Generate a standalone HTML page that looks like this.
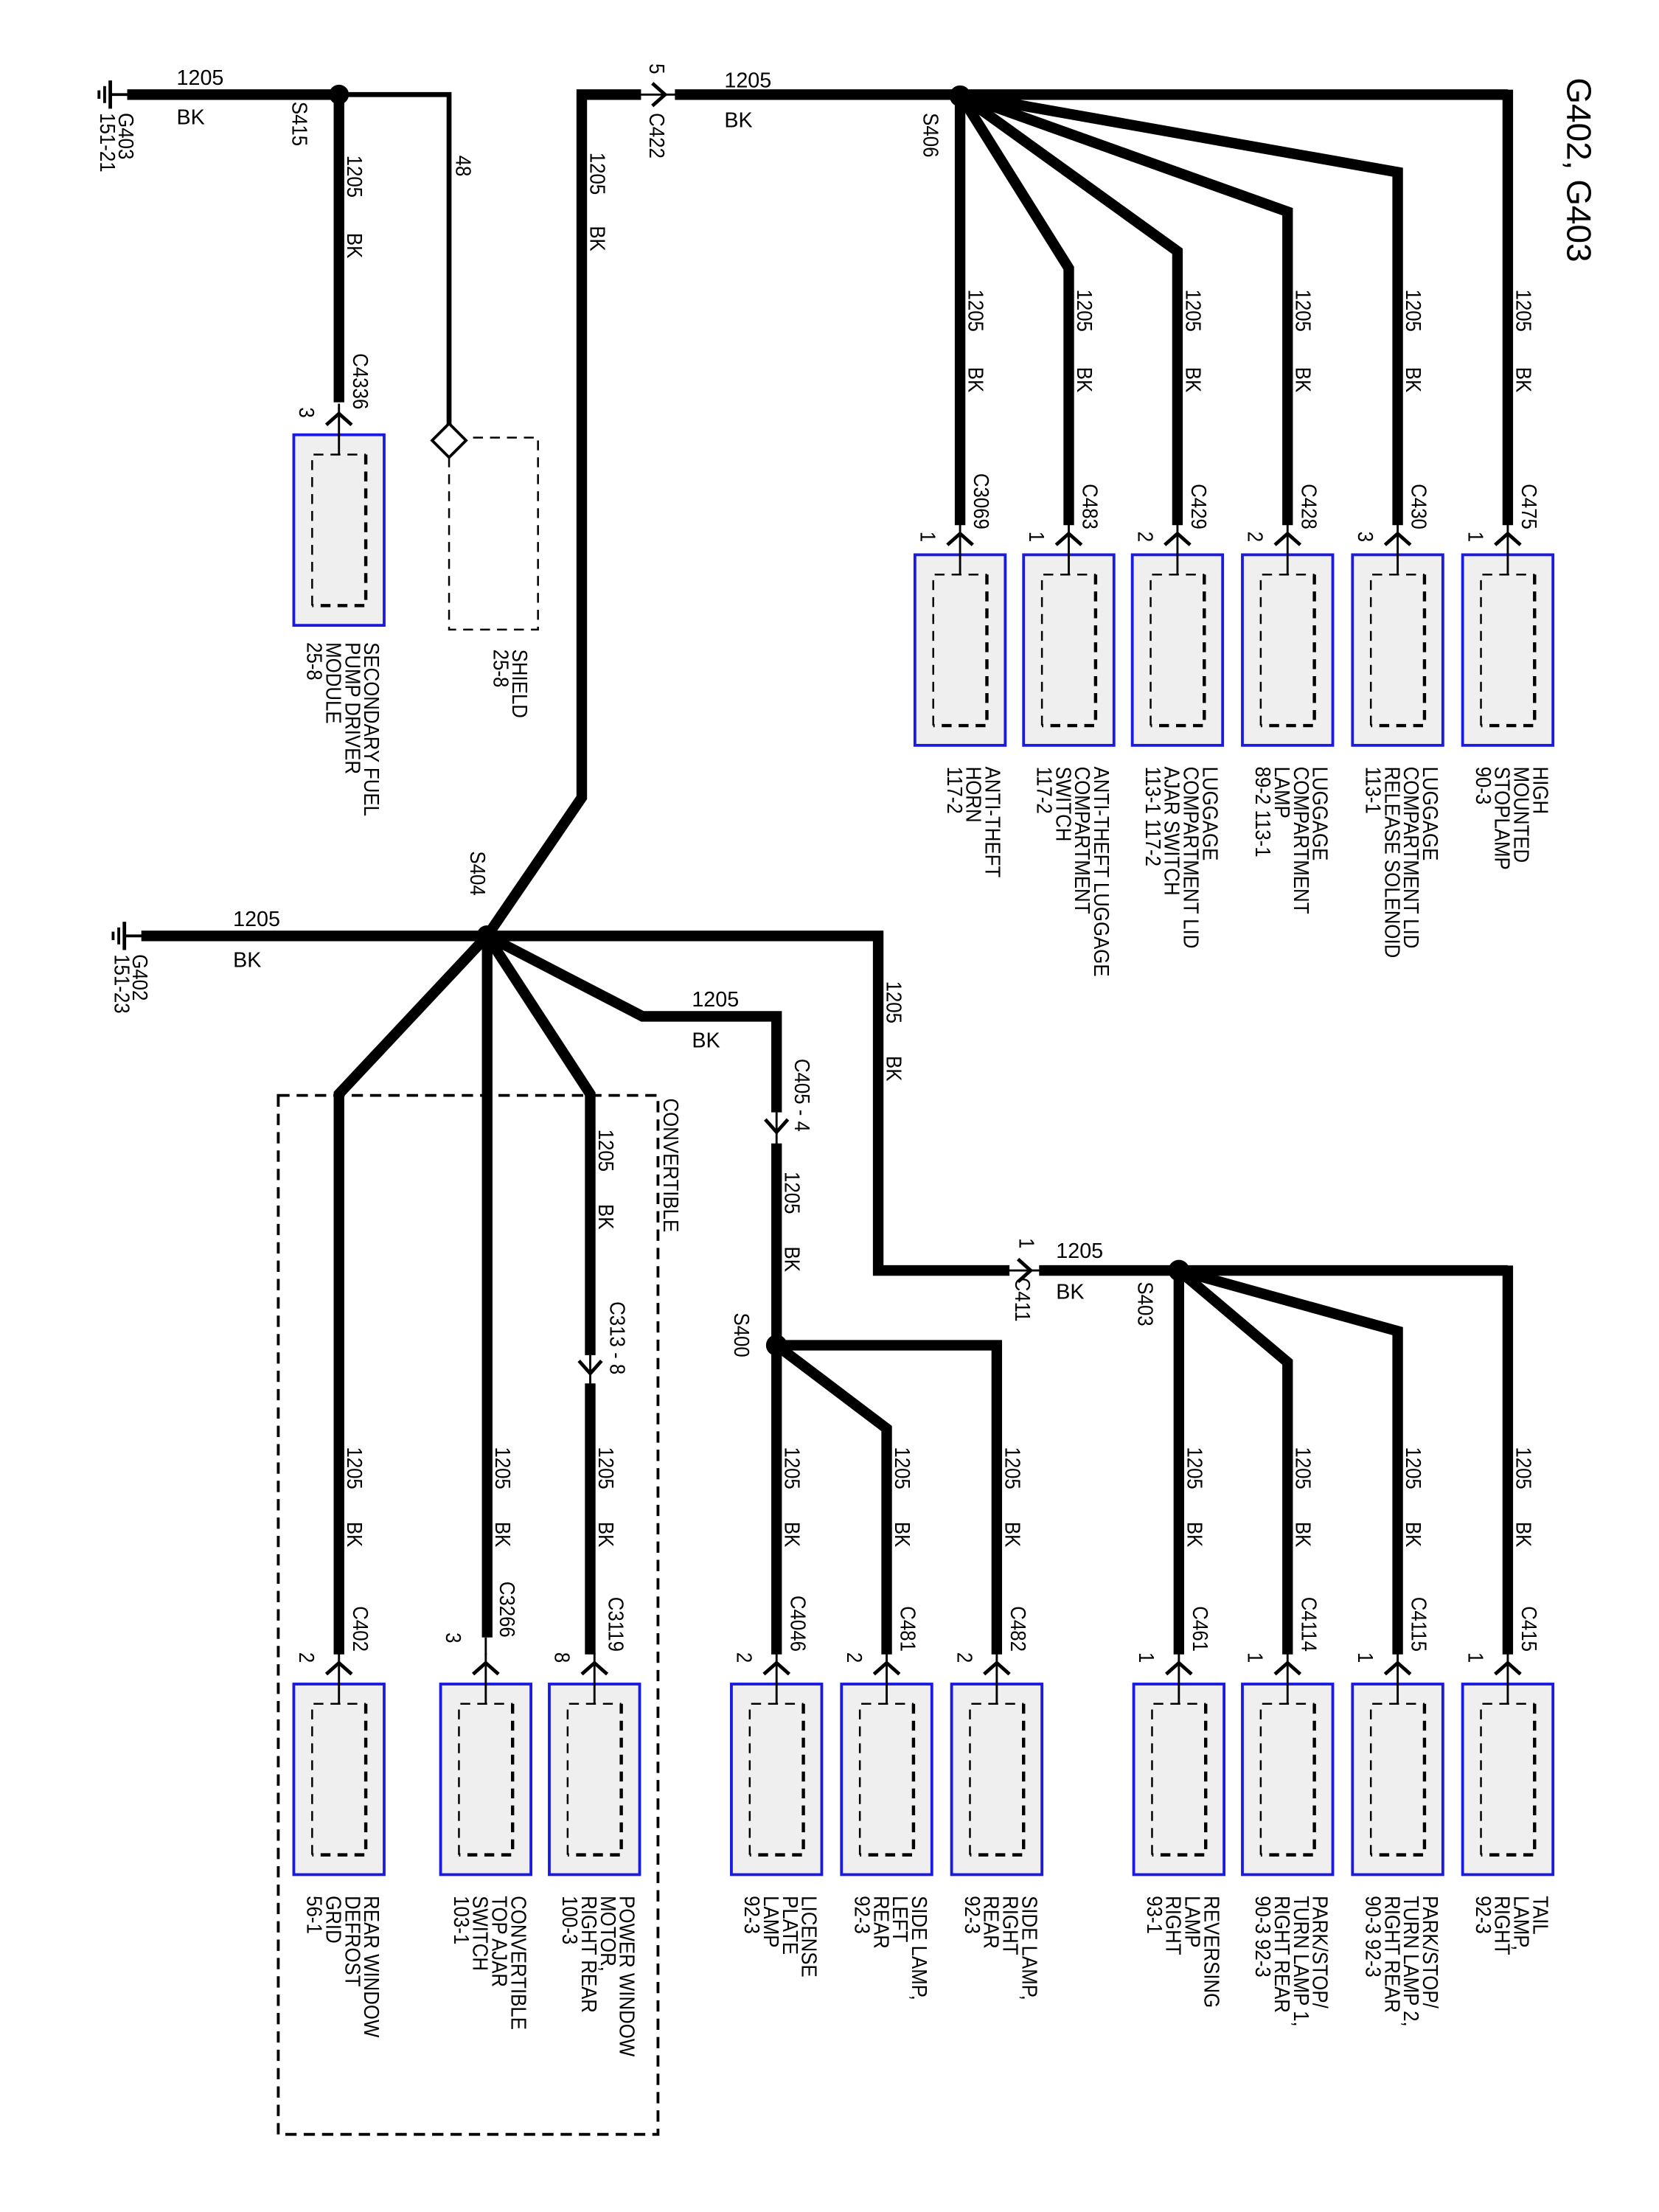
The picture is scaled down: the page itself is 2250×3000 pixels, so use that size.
<!DOCTYPE html>
<html><head><meta charset="utf-8"><style>
html,body{margin:0;padding:0;background:#fff}
svg{display:block}
text{font-family:"Liberation Sans",Arial,sans-serif;font-size:15px;fill:#000}
.pre{white-space:pre}
</style></head><body>
<svg width="2250" height="3000" viewBox="0 0 1175 1567" xmlns="http://www.w3.org/2000/svg">
<defs>
<g id="box">
<rect x="-32" y="0" width="64" height="135" fill="#efefef" stroke="#1a1ae0" stroke-width="2"/>
<path d="M-19 121 V14 H19" fill="none" stroke="#000" stroke-width="1.3" stroke-dasharray="7 5"/>
<path d="M19 14 V121 H-19" fill="none" stroke="#000" stroke-width="2.3" stroke-dasharray="7 5"/>
<line x1="0" y1="-22" x2="0" y2="14" stroke="#000" stroke-width="1.5"/>
<path d="M-9 -7 L0 -15 L9 -7" fill="none" stroke="#000" stroke-width="2.5"/>
</g>
</defs>
<g fill="none" stroke="#000" stroke-width="7.5" stroke-linejoin="miter">
<line x1="90" y1="67" x2="240" y2="67"/>
<line x1="240" y1="67" x2="240" y2="285"/>
<polyline points="345,663 412,565 412,67 454,67"/>
<line x1="478" y1="67" x2="1068" y2="67"/>
<line x1="680" y1="67" x2="680" y2="372"/>
<polyline points="680,67 757,190 757,372"/>
<polyline points="680,67 834,178 834,372"/>
<polyline points="680,67 912,150 912,372"/>
<polyline points="680,67 990,122 990,372"/>
<line x1="1068" y1="63.5" x2="1068" y2="372"/>
<line x1="100" y1="663" x2="345" y2="663"/>
<polyline points="345,663 622,663 622,900 715,900"/>
<line x1="736" y1="900" x2="1068" y2="900"/>
<polyline points="345,663 455,720 550,720 550,788"/>
<line x1="550" y1="810" x2="550" y2="1172"/>
<polyline points="345,663 418,775 418,960"/>
<line x1="418" y1="980" x2="418" y2="1172"/>
<line x1="345" y1="663" x2="345" y2="1160"/>
<polyline points="345,663 240,775 240,1172"/>
<polyline points="550,953 628,1012 628,1172"/>
<polyline points="550,953 706,953 706,1172"/>
<line x1="835" y1="900" x2="835" y2="1172"/>
<polyline points="835,900 912,965 912,1172"/>
<polyline points="835,900 990,943 990,1172"/>
<line x1="1068" y1="896.5" x2="1068" y2="1172"/>
</g>
<polyline points="246,67 318,67 318,306" fill="none" stroke="#000" stroke-width="3.5"/>
<g stroke="#000" fill="none">
<line x1="78" y1="67" x2="92" y2="67" stroke-width="2"/>
<line x1="78" y1="57" x2="78" y2="77" stroke-width="2.5"/>
<line x1="74" y1="61" x2="74" y2="73" stroke-width="2"/>
<line x1="70" y1="64" x2="70" y2="70" stroke-width="2"/>
<line x1="88" y1="663" x2="102" y2="663" stroke-width="2"/>
<line x1="88" y1="653" x2="88" y2="673" stroke-width="2.5"/>
<line x1="84" y1="657" x2="84" y2="669" stroke-width="2"/>
<line x1="80" y1="660" x2="80" y2="666" stroke-width="2"/>
</g>
<g fill="#000">
<circle cx="240" cy="67" r="7"/>
<circle cx="680" cy="68" r="7.5"/>
<circle cx="345" cy="663" r="7.5"/>
<circle cx="550" cy="953" r="7.5"/>
<circle cx="835" cy="900" r="7.5"/>
</g>
<g fill="none" stroke="#000" stroke-width="2.5">
<line x1="454" y1="67" x2="480" y2="67" stroke-width="1.5"/>
<path d="M462 59 L471 67 L462 75"/>
<line x1="715" y1="900" x2="738" y2="900" stroke-width="1.5"/>
<path d="M721 892 L730 900 L721 908"/>
<line x1="550" y1="788" x2="550" y2="812" stroke-width="1.5"/>
<path d="M542 793 L550 802 L558 793"/>
<line x1="418" y1="960" x2="418" y2="982" stroke-width="1.5"/>
<path d="M410 964 L418 973 L426 964"/>
</g>
<path d="M318 300 L330 312 L318 324 L306 312 Z" fill="#fff" stroke="#000" stroke-width="2"/>
<path d="M318 324 V446 H381 V310 H330" fill="none" stroke="#000" stroke-width="1.3" stroke-dasharray="7 5"/>
<rect x="197" y="776" width="269" height="736" fill="none" stroke="#000" stroke-width="2" stroke-dasharray="8 5"/>
<use href="#box" x="240" y="308"/>
<use href="#box" x="680" y="393"/><use href="#box" x="757" y="393"/><use href="#box" x="834" y="393"/>
<use href="#box" x="912" y="393"/><use href="#box" x="990" y="393"/><use href="#box" x="1068" y="393"/>
<use href="#box" x="240" y="1193"/><use href="#box" x="344" y="1193"/><use href="#box" x="421" y="1193"/>
<use href="#box" x="550" y="1193"/><use href="#box" x="628" y="1193"/><use href="#box" x="706" y="1193"/>
<use href="#box" x="835" y="1193"/><use href="#box" x="912" y="1193"/><use href="#box" x="990" y="1193"/><use href="#box" x="1068" y="1193"/>
<line x1="344" y1="1160" x2="344" y2="1172" stroke="#000" stroke-width="1.5"/>

<text x="125" y="60">1205</text><text x="125" y="88">BK</text>
<text x="513" y="62">1205</text><text x="513" y="90">BK</text>
<text x="165" y="656">1205</text><text x="165" y="685">BK</text>
<text x="490" y="713">1205</text><text x="490" y="742">BK</text>
<text x="748" y="891">1205</text><text x="748" y="920">BK</text>

<g>
<text transform="translate(1110,55) rotate(90)" style="font-size:24px">G402, G403</text>
<text transform="translate(84,80) rotate(90) scale(.9,1)">G403<tspan x="0" dy="13">151-21</tspan></text>
<text transform="translate(94,676) rotate(90) scale(.9,1)">G402<tspan x="0" dy="13">151-23</tspan></text>
<text transform="translate(207,72) rotate(90) scale(.9,1)">S415</text>
<text transform="translate(246,110) rotate(90) scale(.9,1)">1205</text>
<text transform="translate(246,165) rotate(90) scale(.9,1)">BK</text>
<text transform="translate(250,290) rotate(90) scale(.9,1)" text-anchor="end">C4336</text>
<text transform="translate(212,296) rotate(90) scale(.9,1)" text-anchor="end">3</text>
<text transform="translate(323,110) rotate(90) scale(.9,1)">48</text>
<text transform="translate(418,108) rotate(90) scale(.9,1)">1205</text>
<text transform="translate(418,160) rotate(90) scale(.9,1)">BK</text>
<text transform="translate(460,45) rotate(90) scale(.9,1)">5</text>
<text transform="translate(460,80) rotate(90) scale(.9,1)">C422</text>
<text transform="translate(654,80) rotate(90) scale(.9,1)">S406</text>
<text transform="translate(333,603) rotate(90) scale(.9,1)">S404</text>
<text transform="translate(628,695) rotate(90) scale(.9,1)">1205</text>
<text transform="translate(628,748) rotate(90) scale(.9,1)">BK</text>
<text transform="translate(563,750) rotate(90) scale(.9,1)">C405 - 4</text>
<text transform="translate(556,830) rotate(90) scale(.9,1)">1205</text>
<text transform="translate(556,883) rotate(90) scale(.9,1)">BK</text>
<text transform="translate(520,930) rotate(90) scale(.9,1)">S400</text>
<text transform="translate(722,877) rotate(90) scale(.9,1)">1</text>
<text transform="translate(719,905) rotate(90) scale(.9,1)">C411</text>
<text transform="translate(806,908) rotate(90) scale(.9,1)">S403</text>
<text transform="translate(470,778) rotate(90) scale(.9,1)">CONVERTIBLE</text>
<text transform="translate(424,800) rotate(90) scale(.9,1)">1205</text>
<text transform="translate(424,853) rotate(90) scale(.9,1)">BK</text>
<text transform="translate(432,922) rotate(90) scale(.9,1)">C313 - 8</text>
<text transform="translate(363,460) rotate(90) scale(.9,1)">SHIELD<tspan x="0" dy="13.5">25-8</tspan></text>
<text transform="translate(258,455) rotate(90) scale(.9,1)">SECONDARY FUEL<tspan x="0" dy="13.5">PUMP DRIVER</tspan><tspan x="0" dy="13.5">MODULE</tspan><tspan x="0" dy="13.5">25-8</tspan></text>
</g>
<g>
<text transform="translate(686,205) rotate(90) scale(.9,1)">1205</text><text transform="translate(686,260) rotate(90) scale(.9,1)">BK</text>
<text transform="translate(763,205) rotate(90) scale(.9,1)">1205</text><text transform="translate(763,260) rotate(90) scale(.9,1)">BK</text>
<text transform="translate(840,205) rotate(90) scale(.9,1)">1205</text><text transform="translate(840,260) rotate(90) scale(.9,1)">BK</text>
<text transform="translate(918,205) rotate(90) scale(.9,1)">1205</text><text transform="translate(918,260) rotate(90) scale(.9,1)">BK</text>
<text transform="translate(996,205) rotate(90) scale(.9,1)">1205</text><text transform="translate(996,260) rotate(90) scale(.9,1)">BK</text>
<text transform="translate(1074,205) rotate(90) scale(.9,1)">1205</text><text transform="translate(1074,260) rotate(90) scale(.9,1)">BK</text>
</g>
<g text-anchor="end">
<text transform="translate(690,375) rotate(90) scale(.9,1)">C3069</text><text transform="translate(652,384) rotate(90) scale(.9,1)">1</text>
<text transform="translate(767,375) rotate(90) scale(.9,1)">C483</text><text transform="translate(729,384) rotate(90) scale(.9,1)">1</text>
<text transform="translate(844,375) rotate(90) scale(.9,1)">C429</text><text transform="translate(806,384) rotate(90) scale(.9,1)">2</text>
<text transform="translate(922,375) rotate(90) scale(.9,1)">C428</text><text transform="translate(884,384) rotate(90) scale(.9,1)">2</text>
<text transform="translate(1000,375) rotate(90) scale(.9,1)">C430</text><text transform="translate(962,384) rotate(90) scale(.9,1)">3</text>
<text transform="translate(1078,375) rotate(90) scale(.9,1)">C475</text><text transform="translate(1040,384) rotate(90) scale(.9,1)">1</text>
</g>
<g class="pre">
<text transform="translate(698,543) rotate(90) scale(.9,1)">ANTI-THEFT<tspan x="0" dy="13.5">HORN</tspan><tspan x="0" dy="13.5">117-2</tspan></text>
<text transform="translate(775,543) rotate(90) scale(.9,1)">ANTI-THEFT LUGGAGE<tspan x="0" dy="13.5">COMPARTMENT</tspan><tspan x="0" dy="13.5">SWITCH</tspan><tspan x="0" dy="13.5">117-2</tspan></text>
<text transform="translate(852,543) rotate(90) scale(.9,1)">LUGGAGE<tspan x="0" dy="13.5">COMPARTMENT LID</tspan><tspan x="0" dy="13.5">AJAR SWITCH</tspan><tspan x="0" dy="13.5">113-1     117-2</tspan></text>
<text transform="translate(930,543) rotate(90) scale(.9,1)">LUGGAGE<tspan x="0" dy="13.5">COMPARTMENT</tspan><tspan x="0" dy="13.5">LAMP</tspan><tspan x="0" dy="13.5">89-2       113-1</tspan></text>
<text transform="translate(1008,543) rotate(90) scale(.9,1)">LUGGAGE<tspan x="0" dy="13.5">COMPARTMENT LID</tspan><tspan x="0" dy="13.5">RELEASE SOLENOID</tspan><tspan x="0" dy="13.5">113-1</tspan></text>
<text transform="translate(1086,543) rotate(90) scale(.9,1)">HIGH<tspan x="0" dy="13.5">MOUNTED</tspan><tspan x="0" dy="13.5">STOPLAMP</tspan><tspan x="0" dy="13.5">90-3</tspan></text>
</g>
<g>
<text transform="translate(246,1025) rotate(90) scale(.9,1)">1205</text><text transform="translate(246,1078) rotate(90) scale(.9,1)">BK</text>
<text transform="translate(351,1025) rotate(90) scale(.9,1)">1205</text><text transform="translate(351,1078) rotate(90) scale(.9,1)">BK</text>
<text transform="translate(424,1025) rotate(90) scale(.9,1)">1205</text><text transform="translate(424,1078) rotate(90) scale(.9,1)">BK</text>
<text transform="translate(556,1025) rotate(90) scale(.9,1)">1205</text><text transform="translate(556,1078) rotate(90) scale(.9,1)">BK</text>
<text transform="translate(634,1025) rotate(90) scale(.9,1)">1205</text><text transform="translate(634,1078) rotate(90) scale(.9,1)">BK</text>
<text transform="translate(712,1025) rotate(90) scale(.9,1)">1205</text><text transform="translate(712,1078) rotate(90) scale(.9,1)">BK</text>
<text transform="translate(841,1025) rotate(90) scale(.9,1)">1205</text><text transform="translate(841,1078) rotate(90) scale(.9,1)">BK</text>
<text transform="translate(918,1025) rotate(90) scale(.9,1)">1205</text><text transform="translate(918,1078) rotate(90) scale(.9,1)">BK</text>
<text transform="translate(996,1025) rotate(90) scale(.9,1)">1205</text><text transform="translate(996,1078) rotate(90) scale(.9,1)">BK</text>
<text transform="translate(1074,1025) rotate(90) scale(.9,1)">1205</text><text transform="translate(1074,1078) rotate(90) scale(.9,1)">BK</text>
</g>
<g text-anchor="end">
<text transform="translate(250,1170) rotate(90) scale(.9,1)">C402</text><text transform="translate(212,1178) rotate(90) scale(.9,1)">2</text>
<text transform="translate(354,1160) rotate(90) scale(.9,1)">C3266</text><text transform="translate(316,1164) rotate(90) scale(.9,1)">3</text>
<text transform="translate(431,1170) rotate(90) scale(.9,1)">C3119</text><text transform="translate(393,1178) rotate(90) scale(.9,1)">8</text>
<text transform="translate(560,1170) rotate(90) scale(.9,1)">C4046</text><text transform="translate(522,1178) rotate(90) scale(.9,1)">2</text>
<text transform="translate(638,1170) rotate(90) scale(.9,1)">C481</text><text transform="translate(600,1178) rotate(90) scale(.9,1)">2</text>
<text transform="translate(716,1170) rotate(90) scale(.9,1)">C482</text><text transform="translate(678,1178) rotate(90) scale(.9,1)">2</text>
<text transform="translate(845,1170) rotate(90) scale(.9,1)">C461</text><text transform="translate(807,1178) rotate(90) scale(.9,1)">1</text>
<text transform="translate(922,1170) rotate(90) scale(.9,1)">C4114</text><text transform="translate(884,1178) rotate(90) scale(.9,1)">1</text>
<text transform="translate(1000,1170) rotate(90) scale(.9,1)">C4115</text><text transform="translate(962,1178) rotate(90) scale(.9,1)">1</text>
<text transform="translate(1078,1170) rotate(90) scale(.9,1)">C415</text><text transform="translate(1040,1178) rotate(90) scale(.9,1)">1</text>
</g>
<g class="pre">
<text transform="translate(258,1343) rotate(90) scale(.9,1)">REAR WINDOW<tspan x="0" dy="13.5">DEFROST</tspan><tspan x="0" dy="13.5">GRID</tspan><tspan x="0" dy="13.5">56-1</tspan></text>
<text transform="translate(362,1343) rotate(90) scale(.9,1)">CONVERTIBLE<tspan x="0" dy="13.5">TOP AJAR</tspan><tspan x="0" dy="13.5">SWITCH</tspan><tspan x="0" dy="13.5">103-1</tspan></text>
<text transform="translate(439,1343) rotate(90) scale(.9,1)">POWER WINDOW<tspan x="0" dy="13.5">MOTOR,</tspan><tspan x="0" dy="13.5">RIGHT REAR</tspan><tspan x="0" dy="13.5">100-3</tspan></text>
<text transform="translate(568,1343) rotate(90) scale(.9,1)">LICENSE<tspan x="0" dy="13.5">PLATE</tspan><tspan x="0" dy="13.5">LAMP</tspan><tspan x="0" dy="13.5">92-3</tspan></text>
<text transform="translate(646,1343) rotate(90) scale(.9,1)">SIDE LAMP,<tspan x="0" dy="13.5">LEFT</tspan><tspan x="0" dy="13.5">REAR</tspan><tspan x="0" dy="13.5">92-3</tspan></text>
<text transform="translate(724,1343) rotate(90) scale(.9,1)">SIDE LAMP,<tspan x="0" dy="13.5">RIGHT</tspan><tspan x="0" dy="13.5">REAR</tspan><tspan x="0" dy="13.5">92-3</tspan></text>
<text transform="translate(853,1343) rotate(90) scale(.9,1)">REVERSING<tspan x="0" dy="13.5">LAMP</tspan><tspan x="0" dy="13.5">RIGHT</tspan><tspan x="0" dy="13.5">93-1</tspan></text>
<text transform="translate(930,1343) rotate(90) scale(.9,1)">PARK/STOP/<tspan x="0" dy="13.5">TURN LAMP 1,</tspan><tspan x="0" dy="13.5">RIGHT REAR</tspan><tspan x="0" dy="13.5">90-3   92-3</tspan></text>
<text transform="translate(1008,1343) rotate(90) scale(.9,1)">PARK/STOP/<tspan x="0" dy="13.5">TURN LAMP 2,</tspan><tspan x="0" dy="13.5">RIGHT REAR</tspan><tspan x="0" dy="13.5">90-3   92-3</tspan></text>
<text transform="translate(1086,1343) rotate(90) scale(.9,1)">TAIL<tspan x="0" dy="13.5">LAMP,</tspan><tspan x="0" dy="13.5">RIGHT</tspan><tspan x="0" dy="13.5">92-3</tspan></text>
</g>
</svg>
</body></html>
